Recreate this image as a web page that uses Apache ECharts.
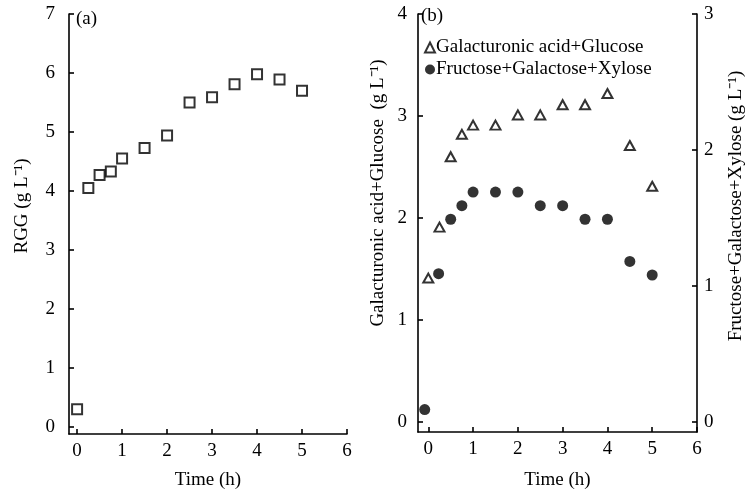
<!DOCTYPE html>
<html><head><meta charset="utf-8">
<script src="https://cdn.jsdelivr.net/npm/echarts@6/dist/echarts.min.js"></script>
<style>html,body{margin:0;padding:0;background:#fff}#c{width:745px;height:494px}</style>
</head><body><div id="c"></div>
<script>
// Panel (a)
const timeA = [0, 0.25, 0.5, 0.75, 1, 1.5, 2, 2.5, 3, 3.5, 4, 4.5, 5];
const rgg = [0.30, 4.05, 4.27, 4.33, 4.55, 4.73, 4.94, 5.50, 5.59, 5.81, 5.98, 5.89, 5.70];
// Panel (b)
const timeTri = [0, 0.25, 0.5, 0.75, 1, 1.5, 2, 2.5, 3, 3.5, 4, 4.5, 5];
const galGlc = [1.41, 1.91, 2.60, 2.82, 2.91, 2.91, 3.01, 3.01, 3.11, 3.11, 3.22, 2.71, 2.31];
const timeCirc = [-0.08, 0.23, 0.5, 0.75, 1, 1.5, 2, 2.5, 3, 3.5, 4, 4.5, 5];
const fgx = [0.09, 1.09, 1.49, 1.59, 1.69, 1.69, 1.69, 1.59, 1.59, 1.49, 1.49, 1.18, 1.08];
const xTicks = [0, 1, 2, 3, 4, 5, 6];
const yTicksA = [0, 1, 2, 3, 4, 5, 6, 7];
const yTicksBL = [0, 1, 2, 3, 4];
const yTicksBR = [0, 1, 2, 3];

const FONT = 'Liberation Serif';
const zip = (xs, ys) => xs.map((x, i) => [x, ys[i]]);
const line = { show: true, onZero: false, lineStyle: { color: '#000', width: 1.6 } };
const tick = (vals) => ({ show: true, inside: true, length: 5, lineStyle: { color: '#000', width: 1.6 }, customValues: vals });
const lab = (vals, margin) => ({ show: true, customValues: vals, color: '#000', fontFamily: FONT, fontSize: 19, margin: margin });
const xName = { name: 'Time (h)', nameLocation: 'middle', nameGap: 37, nameMoveOverlap: false, nameTextStyle: { color: '#000', fontFamily: FONT, fontSize: 19 } };

const chart = echarts.init(document.getElementById('c'));
chart.setOption({
  animation: false,
  backgroundColor: '#fff',
  grid: [
    { left: 69, top: 14, width: 278, height: 420, containLabel: false, outerBoundsMode: 'none' },
    { left: 418, top: 14, width: 279, height: 418, containLabel: false, outerBoundsMode: 'none' }
  ],
  xAxis: [
    Object.assign({ type: 'value', gridIndex: 0, min: -0.18, max: 6, axisLine: line, axisTick: tick(xTicks), axisLabel: lab(xTicks, 8), splitLine: { show: false } }, xName),
    Object.assign({ type: 'value', gridIndex: 1, min: -0.23, max: 6, axisLine: line, axisTick: tick(xTicks), axisLabel: lab(xTicks, 8), splitLine: { show: false } }, xName, { nameGap: 39 })
  ],
  yAxis: [
    { type: 'value', gridIndex: 0, min: -0.12, max: 7, axisLine: line, axisTick: tick(yTicksA), axisLabel: lab(yTicksA, 14), splitLine: { show: false } },
    { type: 'value', gridIndex: 1, min: -0.1, max: 4, position: 'left', axisLine: line, axisTick: tick(yTicksBL), axisLabel: lab(yTicksBL, 11), splitLine: { show: false } },
    { type: 'value', gridIndex: 1, min: -0.075, max: 3, position: 'right', axisLine: line, axisTick: tick(yTicksBR), axisLabel: lab(yTicksBR, 7), splitLine: { show: false } }
  ],
  legend: {
    orient: 'vertical', left: 419, top: 33, itemWidth: 10, itemHeight: 10, itemGap: 3,
    textStyle: { color: '#000', fontFamily: FONT, fontSize: 19, padding: [0, 0, 0, -4] },
    data: ['Galacturonic acid+Glucose', 'Fructose+Galactose+Xylose']
  },
  series: [
    { name: 'RGG', type: 'scatter', xAxisIndex: 0, yAxisIndex: 0, data: zip(timeA, rgg), symbol: 'rect', symbolSize: 10,
      itemStyle: { color: '#fff', borderColor: '#000', borderWidth: 2 } },
    { name: 'Galacturonic acid+Glucose', type: 'scatter', xAxisIndex: 1, yAxisIndex: 1, data: zip(timeTri, galGlc), symbol: 'triangle', symbolSize: [10, 9],
      itemStyle: { color: '#fff', borderColor: '#000', borderWidth: 2 } },
    { name: 'Fructose+Galactose+Xylose', type: 'scatter', xAxisIndex: 1, yAxisIndex: 2, data: zip(timeCirc, fgx), symbol: 'circle', symbolSize: 11,
      itemStyle: { color: '#000' } }
  ],
  graphic: [
    { type: 'text', x: 76, y: 19, style: { text: '(a)', fill: '#000', font: '19px "Liberation Serif"', verticalAlign: 'middle' } },
    { type: 'text', x: 421, y: 16, style: { text: '(b)', fill: '#000', font: '19px "Liberation Serif"', verticalAlign: 'middle' } },
    { type: 'text', x: 22, y: 206, rotation: Math.PI / 2, style: { text: 'RGG (g L\u207B\u00B9)', fill: '#000', font: '19px "Liberation Serif"', align: 'center', verticalAlign: 'middle' } },
    { type: 'text', x: 378, y: 193, rotation: Math.PI / 2, style: { text: 'Galacturonic acid+Glucose  (g L\u207B\u00B9)', fill: '#000', font: '19px "Liberation Serif"', align: 'center', verticalAlign: 'middle' } },
    { type: 'text', x: 736, y: 206, rotation: Math.PI / 2, style: { text: 'Fructose+Galactose+Xylose (g L\u207B\u00B9)', fill: '#000', font: '19px "Liberation Serif"', align: 'center', verticalAlign: 'middle' } }
  ]
});
</script></body></html>
